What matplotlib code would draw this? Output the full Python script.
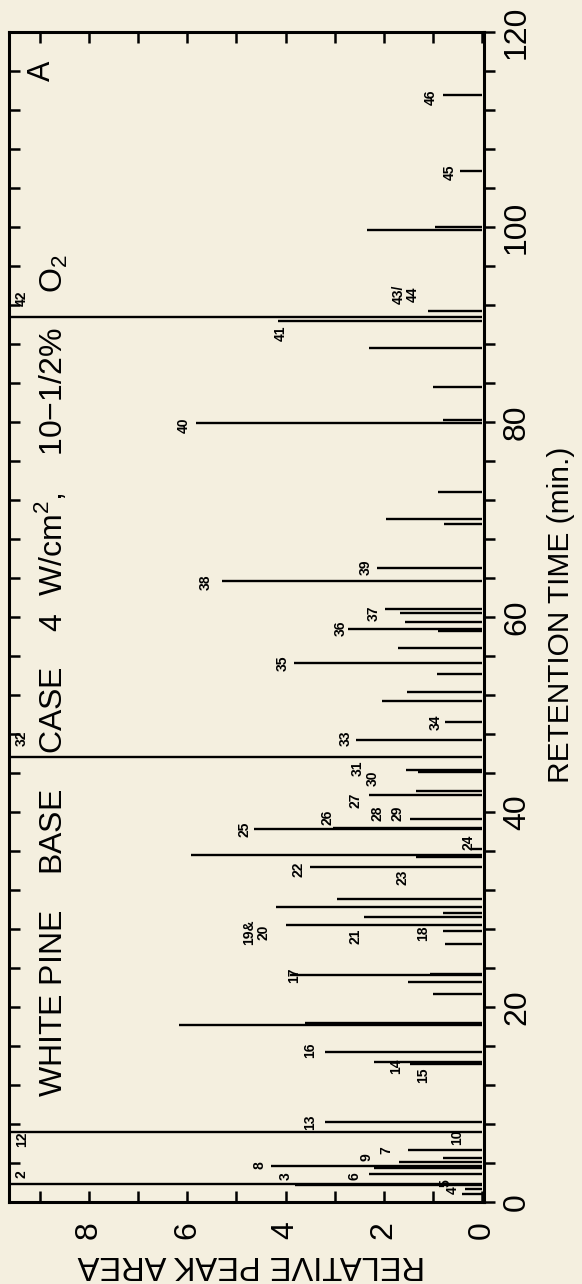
import matplotlib
matplotlib.use("Agg")
import matplotlib.pyplot as plt
from matplotlib.ticker import MultipleLocator

plt.rcParams['font.family'] = ['Liberation Sans', 'DejaVu Sans']
plt.rcParams['mathtext.fontset'] = 'custom'
plt.rcParams['mathtext.rm'] = 'Liberation Sans'

# retention time (min) and relative peak area of every peak line
times = [0.8, 1.3, 1.7, 1.85, 2.9, 3.5, 3.7, 4.1, 4.5, 5.3, 7.2, 8.2,
         14.1, 14.4, 15.4, 18.2, 18.4, 21.3, 22.6, 23.3, 23.4, 26.5,
         27.8, 28.4, 29.2, 29.6, 30.3, 31.1, 34.4, 35.4, 35.6, 36.2, 38.3,
         38.4, 39.3, 41.7, 42.2, 44.1, 44.3, 45.6, 47.4, 49.2, 51.4, 52.3,
         54.2, 55.3, 56.8, 58.6, 58.8, 59.5, 60.4, 60.8, 63.7, 65.0, 69.5,
         70.0, 72.8, 79.9, 80.2, 83.6, 87.6, 90.4, 90.8, 91.4, 99.7, 100.0,
         105.7, 113.5]
areas = [0.4, 0.35, 3.8, 12, 2.3, 2.2, 4.3, 1.7, 0.8, 1.5, 12, 3.2,
         1.46, 2.2, 3.2, 6.17, 3.6, 1.0, 1.5, 3.9, 1.05, 0.75,
         0.8, 4.0, 2.4, 0.8, 4.2, 2.95, 3.5, 1.35, 5.92, 0.2, 4.65,
         3.04, 1.46, 2.3, 1.34, 1.3, 1.55, 12, 2.56, 0.75, 2.03, 1.53,
         0.92, 3.83, 1.72, 0.9, 2.72, 1.56, 1.66, 1.97, 5.3, 2.13, 0.77,
         1.95, 0.9, 5.82, 0.8, 1.0, 2.31, 4.15, 12, 1.1, 2.35, 0.95,
         0.45, 0.8]

# peak numbers: text, retention time, area where the number sits
peak_labels = ["2", "3", "4", "5", "6", "7", "8", "9", "10", "12", "13", "14",
               "15", "16", "17", "18", "19&\n20", "21", "22", "23", "24", "25",
               "26", "27", "28", "29", "30", "31", "32", "33", "34", "35", "36",
               "37", "38", "39", "40", "41", "42", "43/\n44", "45", "46"]
label_t = [2.8, 2.6, 1.2, 1.9, 2.7, 5.3, 3.8, 4.6, 6.6, 6.4, 8.2, 13.9,
           13.0, 15.6, 23.3, 27.6, 27.7, 27.2, 34.1, 33.3, 36.9, 38.2,
           39.5, 41.2, 39.9, 39.9, 43.5, 44.5, 47.6, 47.6, 49.2, 55.3, 58.8,
           60.4, 63.6, 65.1, 79.7, 89.1, 92.7, 93.1, 105.6, 113.3]
label_a = [9.37, 4.0, 0.6, 0.75, 2.6, 1.95, 4.54, 2.35, 0.5, 9.37, 3.5, 1.75,
           1.2, 3.5, 3.83, 1.2, 4.6, 2.58, 3.73, 1.62, 0.28, 4.83,
           3.14, 2.58, 2.13, 1.72, 2.23, 2.54, 9.37, 2.78, 0.95, 4.06, 2.88,
           2.21, 5.62, 2.37, 6.08, 4.1, 9.37, 1.56, 0.65, 1.05]

time_ticks = [0, 20, 40, 60, 80, 100, 120]
area_ticks = [0, 2, 4, 6, 8]

bg = '#f4efdf'
fig = plt.figure(figsize=(5.82, 12.84), dpi=100, facecolor=bg)
ax = fig.add_axes([0.0155, 0.0639, 0.8161, 0.9112])
ax.set_facecolor(bg)

ax.hlines(times, 0, areas, colors='black', linewidth=1.7)

for txt, t, a in zip(peak_labels, label_t, label_a):
    ax.text(a, t, txt, rotation=90, ha='center', va='center',
            fontsize=10, fontweight='bold', linespacing=1.0)

ax.set_xlim(9.63, -0.04)
ax.set_ylim(0, 120)

for s in ax.spines.values():
    s.set_linewidth(2.2)

ax.xaxis.set_minor_locator(MultipleLocator(1))
ax.set_xticks(area_ticks)
ax.set_xticklabels([str(v) for v in area_ticks], rotation=90, fontsize=23)
ax.tick_params(axis='x', which='both', direction='in', top=True, bottom=True,
               length=8, width=1.8, pad=14)

ax.set_yticks(time_ticks, minor=False)
ax.yaxis.set_minor_locator(MultipleLocator(4))
ax.yaxis.tick_right()
ax.set_yticklabels([str(v) for v in time_ticks], rotation=90, fontsize=23,
                   va='center')
ax.tick_params(axis='y', which='both', direction='out', right=True, left=False,
               length=8, width=1.8, pad=5)

left = ax.secondary_yaxis('left')
left.yaxis.set_major_locator(MultipleLocator(4))
left.tick_params(direction='in', length=8, width=1.8, labelleft=False)
left.spines['left'].set_visible(False)

ax.set_xlabel('RELATIVE PEAK AREA', rotation=180, fontsize=23.5)
ax.xaxis.set_label_coords(0.51, -0.040)
ax.yaxis.set_label_position('right')
ax.set_ylabel('RETENTION TIME (min.)', rotation=90, fontsize=21.5)
ax.yaxis.set_label_coords(1.133, 0.502)

ax.text(0.088, 0.09,
        r'WHITE PINE    BASE    CASE    4  W/cm$^2$,    10$-$1/2%    O$_2$',
        transform=ax.transAxes, rotation=90, ha='center', va='bottom',
        fontsize=23)
ax.text(0.069, 0.967, 'A', transform=ax.transAxes, rotation=90,
        ha='center', va='center', fontsize=22)

fig.savefig('out.png', dpi=100, facecolor=bg)
